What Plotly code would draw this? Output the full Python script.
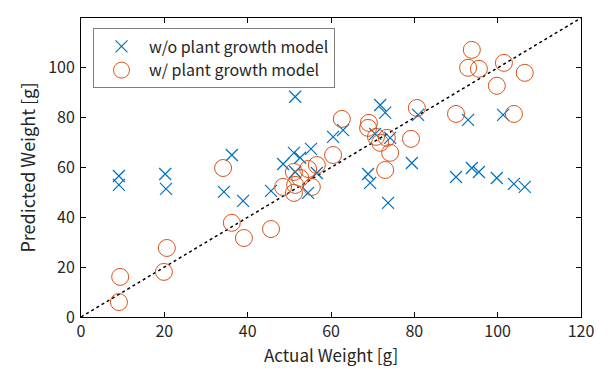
import plotly.graph_objects as go

# w/o plant growth model (blue crosses)
wo_actual = [9.1, 9.1, 20.2, 20.4, 34.3, 36.2, 38.9, 45.6, 48.5, 51.1, 51.4, 51.4,
             52.6, 54.5, 55.2, 56.6, 60.5, 62.9, 68.9, 69.4, 70.6, 71.8, 73.0, 73.7,
             74.2, 79.4, 80.9, 92.9, 101.3, 90.0, 93.8, 95.5, 99.8, 103.9, 106.5]
wo_pred = [56.6, 53.0, 57.4, 51.4, 50.2, 65.0, 46.6, 50.6, 61.4, 65.9, 88.4, 58.2,
           63.9, 49.8, 67.5, 57.8, 72.3, 75.0, 57.4, 53.8, 73.5, 85.1, 82.0, 45.8,
           71.9, 61.8, 81.1, 79.1, 81.1, 56.2, 59.8, 58.2, 55.8, 53.4, 52.2]

# w/ plant growth model (orange circles)
w_actual = [9.4, 9.1, 20.6, 19.9, 34.1, 36.2, 39.1, 45.6, 48.5, 51.1, 52.6, 54.5,
            56.6, 55.4, 51.4, 51.1, 60.5, 62.6, 69.1, 68.9, 70.8, 71.8, 73.4, 74.2,
            73.0, 79.2, 80.6, 93.8, 92.9, 95.5, 101.5, 106.5, 99.8, 90.0, 103.9]
w_pred = [16.1, 6.0, 27.7, 18.1, 59.8, 37.8, 31.7, 35.3, 52.2, 58.2, 55.8, 59.4,
          61.0, 52.2, 53.0, 49.8, 65.0, 79.5, 77.9, 75.9, 72.3, 69.9, 71.9, 65.9,
          59.0, 71.5, 83.9, 107.2, 100.0, 99.6, 102.0, 98.0, 92.8, 81.5, 81.5]

ref_line = [0, 120]
ticks = [0, 20, 40, 60, 80, 100, 120]

FONT = "Noto Sans CJK JP"

fig = go.Figure()
fig.add_trace(go.Scatter(x=ref_line, y=ref_line, mode="lines", showlegend=False,
                         line=dict(color="black", width=1.5, dash="dot"), hoverinfo="skip"))
fig.add_trace(go.Scatter(x=wo_actual, y=wo_pred, mode="markers", name="w/o plant growth model",
                         marker=dict(symbol="x-thin", size=12, color="#0072BD",
                                     line=dict(color="#0072BD", width=1.2))))
fig.add_trace(go.Scatter(x=w_actual, y=w_pred, mode="markers", name="w/ plant growth model",
                         marker=dict(symbol="circle-open", size=17, color="#D95319",
                                     line=dict(color="#D95319", width=1))))

axis_common = dict(range=[0, 120], tickvals=ticks, ticks="inside", ticklen=5,
                   tickcolor="black", showline=True, linecolor="black", linewidth=1,
                   mirror="ticks", showgrid=False, zeroline=False,
                   tickfont=dict(family=FONT, size=16, color="#262626"))

# The page places the figure 8px from the top-left corner of the window.
fig.update_layout(
    width=602, height=365,
    margin=dict(l=73, r=29, t=10, b=56),
    paper_bgcolor="white", plot_bgcolor="white",
    font=dict(family=FONT, color="#262626"),
    xaxis=dict(**axis_common, title=dict(text="Actual Weight [g]",
                                         font=dict(family=FONT, size=17), standoff=4)),
    yaxis=dict(**axis_common, ticklabelstandoff=2,
               title=dict(text="Predicted Weight [g]",
                          font=dict(family=FONT, size=18), standoff=7)),
    legend=dict(x=0.024, y=0.965, xanchor="left", yanchor="top",
                bgcolor="white", bordercolor="#7f7f7f", borderwidth=1,
                font=dict(family=FONT, size=16, color="#262626"),
                itemwidth=45, tracegroupgap=0),
)

fig.write_html("out.html")
